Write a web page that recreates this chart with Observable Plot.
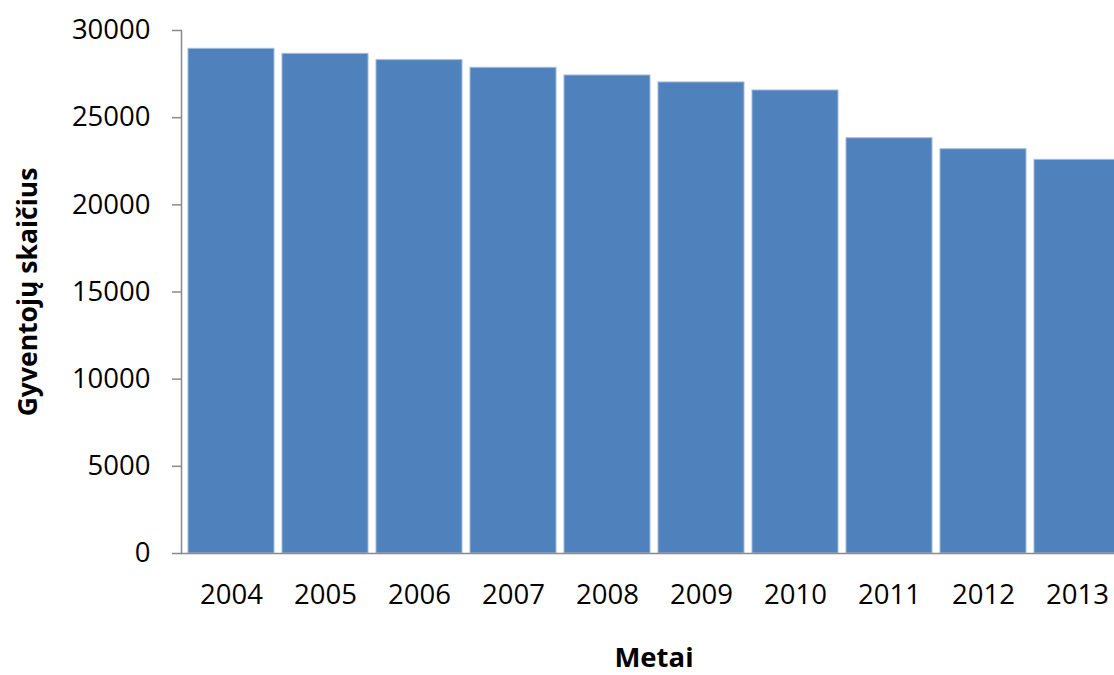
<!DOCTYPE html>
<html>
<head>
<meta charset="utf-8">
<script src="https://cdn.jsdelivr.net/npm/d3@7"></script>
<script src="https://cdn.jsdelivr.net/npm/@observablehq/plot@0.6"></script>
<style>
  html, body { margin: 0; padding: 0; background: #fff; overflow: hidden; }
  #chart svg { display: block; }
</style>
</head>
<body>
<div id="chart"></div>
<script>
const years = ["2004", "2005", "2006", "2007", "2008", "2009", "2010", "2011", "2012", "2013"];
const population = [28950, 28660, 28300, 27860, 27420, 27020, 26560, 23820, 23190, 22580];
const yTicks = [0, 5000, 10000, 15000, 20000, 25000, 30000];
const yTitle = "Gyventojų skaičius";
const xTitle = "Metai";

const data = years.map((y, i) => ({year: y, value: population[i]}));
const axisColor = "#8a8a8a";
const font = "'Open Sans', Lato, sans-serif";

const chart = Plot.plot({
  width: 1114,
  height: 675,
  marginLeft: 181,
  marginRight: 0,
  marginTop: 30,
  marginBottom: 122,
  style: {fontFamily: font, fontSize: "27.5px", color: "#000", background: "#fff"},
  x: {domain: years, range: [181, 1126], paddingInner: 0.09, paddingOuter: 0.045},
  y: {domain: [0, 30000]},
  marks: [
    Plot.barY(data, {x: "year", y: "value", fill: "#4F81BD", stroke: "#a3bbdc", strokeWidth: 1}),
    Plot.frame({anchor: "left", stroke: axisColor, strokeWidth: 1.5}),
    Plot.ruleY([0], {stroke: axisColor, strokeWidth: 1.5}),
    Plot.axisY({ticks: yTicks, tickFormat: d => String(d), tickSize: 9, tickPadding: 22, stroke: axisColor, strokeWidth: 1.5, label: null, fontSize: 27.5, fill: "#000"}),
    Plot.axisX({tickSize: 0, tickPadding: 31, label: null, fontSize: 27.5, fill: "#000"}),
    Plot.text([yTitle], {frameAnchor: "left", dx: -153, rotate: -90, text: d => d, fontWeight: "bold", fontSize: 26.5, fill: "#000", textAnchor: "middle", lineAnchor: "middle"}),
    Plot.text([xTitle], {frameAnchor: "bottom", dx: 6, dy: 105, text: d => d, fontWeight: "bold", fontSize: 27.5, fill: "#000", textAnchor: "middle", lineAnchor: "middle"})
  ]
});
document.getElementById("chart").append(chart);
</script>
</body>
</html>
